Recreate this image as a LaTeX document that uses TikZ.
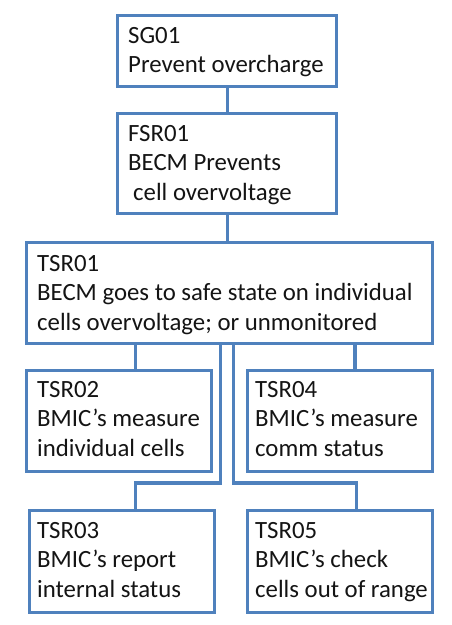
\documentclass[tikz,border=0pt]{standalone}
\usepackage{fontspec}
\setmainfont{Carlito}
\usetikzlibrary{calc}
\definecolor{boxblue}{RGB}{79,129,189}
\definecolor{txtc}{RGB}{20,20,20}
\begin{document}
\begin{tikzpicture}[x=1pt,y=-1pt,
  box/.style={draw=boxblue,line width=2.2pt,fill=white,rectangle,inner sep=0,anchor=north west},
  txt/.style={anchor=north west,inner sep=0,align=left,text=txtc,font=\fontsize{24.8}{29.5}\selectfont},
  conn/.style={draw=boxblue,line width=3.2pt}]
\useasboundingbox (0,0) rectangle (451,625);
\node[box,minimum width=218,minimum height=70] (sg) at (117,15) {};
\node[box,minimum width=218,minimum height=99] (fsr) at (117,113) {};
\node[box,minimum width=405,minimum height=100] (t1) at (26,242) {};
\node[box,minimum width=184,minimum height=100] (t2) at (26,370) {};
\node[box,minimum width=184,minimum height=100] (t4) at (247,370) {};
\node[box,minimum width=184,minimum height=101] (t3) at (29,510) {};
\node[box,minimum width=184,minimum height=101] (t5) at (247,510) {};
\coordinate (t2top) at ($(t2.north west)!0.587!(t2.north east)$);
\coordinate (t4top) at ($(t4.north west)!0.58!(t4.north east)$);
\coordinate (t3top) at ($(t3.north west)!0.57!(t3.north east)$);
\coordinate (t5top) at ($(t5.north west)!0.59!(t5.north east)$);
\coordinate (jl) at ($(t3top)+(0,-27)$);
\coordinate (jr) at ($(t5top)+(0,-27)$);
\draw[conn] (sg.south) -- (fsr.north);
\draw[conn] (fsr.south) -- (fsr.south |- t1.north);
\draw[conn] (t2top |- t1.south) -- (t2top);
\draw[conn] (t4top |- t1.south) -- (t4top);
\draw[conn] ([xshift=-9.5pt]t1.south) |- (jl) -- (t3top);
\draw[conn] ([xshift=3.5pt]t1.south) |- (jr) -- (t5top);
\foreach \b in {sg,fsr,t1,t2,t4,t3,t5}{\draw[draw=boxblue,line width=2.2pt] (\b.north west) rectangle (\b.south east);}
\node[txt] (sgt) at ($(sg.north west)+(11,12)$) {SG01\\Prevent overcharge};
\node[txt] (fsrt) at ($(fsr.north west)+(11,12)$) {FSR01\\BECM Prevents\\\hspace*{5pt}cell overvoltage};
\node[txt] (t1t) at ($(t1.north west)+(11,13)$) {TSR01\\BECM goes to safe state on individual\\cells overvoltage; or unmonitored};
\node[txt] (t2t) at ($(t2.north west)+(11,11)$) {TSR02\\BMIC’s measure\\individual cells};
\node[txt] (t4t) at ($(t4.north west)+(8,11)$) {TSR04\\BMIC’s measure\\comm status};
\node[txt] (t3t) at ($(t3.north west)+(8,12)$) {TSR03\\BMIC’s report\\internal status};
\node[txt] (t5t) at ($(t5.north west)+(8,12)$) {TSR05\\BMIC’s check\\cells out of range};
\end{tikzpicture}
\end{document}
